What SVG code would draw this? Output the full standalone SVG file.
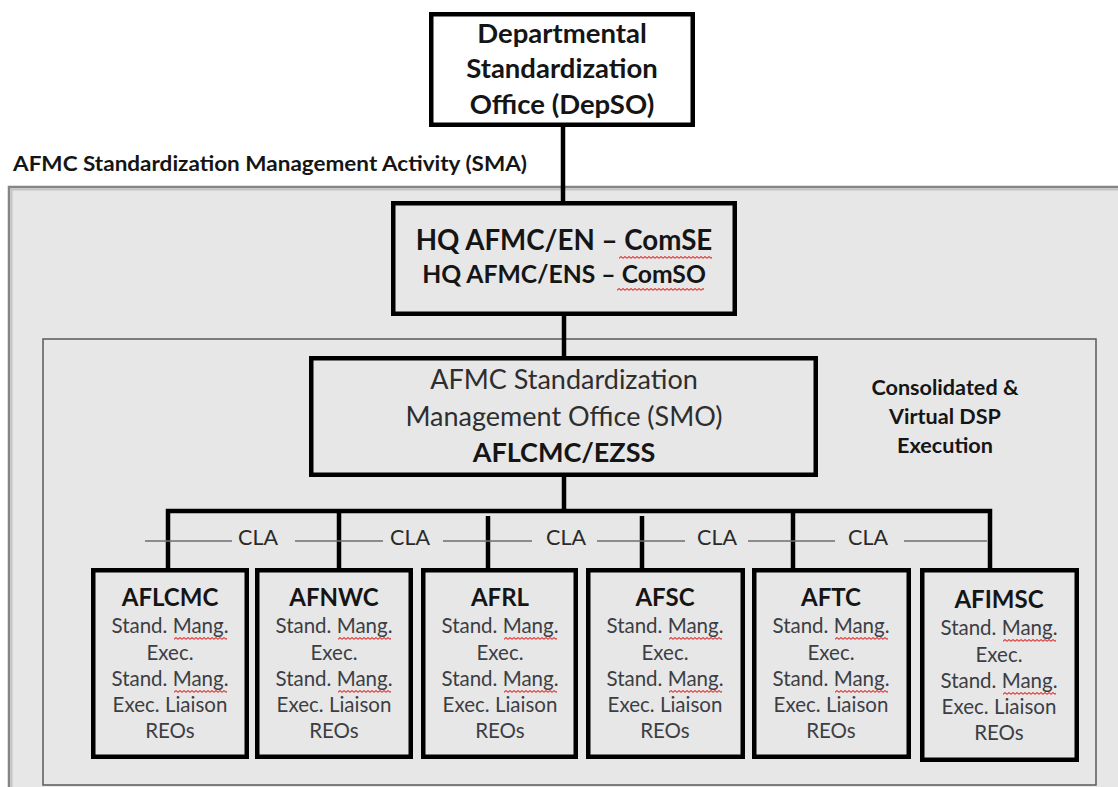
<svg xmlns="http://www.w3.org/2000/svg" width="1118" height="787" viewBox="0 0 1118 787">
<style>
text{font-family:Lato,"Open Sans","Liberation Sans",sans-serif;text-anchor:middle;}
.b{font-weight:bold;fill:#151515;}
.r{fill:#2e2e2e;}
.box{stroke:#000;stroke-width:4.5;fill:#e7e7e7;}
.conn{stroke:#000;stroke-width:4.5;fill:none;}
.cla{stroke:#6e6e6e;stroke-width:1.3;fill:none;}
.lt{font-size:24px;font-weight:bold;fill:#151515;}
.lb{font-size:20.5px;fill:#3c3e44;}
.cl{font-size:21.5px;fill:#2a2a2a;}
</style>
<defs>
<pattern id="wavy" patternUnits="userSpaceOnUse" width="4" height="3">
<path d="M0,2.4 L2,0.6 L4,2.4" stroke="#e04444" stroke-width="1.2" fill="none"/>
</pattern>
</defs>
<rect x="0" y="0" width="1118" height="787" fill="#ffffff"/>

<g id="sma-panel">
<rect x="9" y="187" width="1130" height="620" fill="#e7e7e7" stroke="#858585" stroke-width="2.5"/>
<path d="M11.5,805 V189.5 H1118" fill="none" stroke="#c4c4c4" stroke-width="2"/>
<text x="13" y="171" class="b" style="text-anchor:start;font-size:21.8px" textLength="514" lengthAdjust="spacingAndGlyphs">AFMC Standardization Management Activity (SMA)</text>
</g>

<g id="dsp-panel">
<rect x="43" y="339" width="1053" height="446" fill="none" stroke="#5a5a5a" stroke-width="1.5"/>
<text class="b" style="font-size:21.6px" x="945" y="395">Consolidated &amp;</text>
<text class="b" style="font-size:21.6px" x="945" y="424">Virtual DSP</text>
<text class="b" style="font-size:21.6px" x="945" y="453">Execution</text>
</g>

<g id="connectors">
<line class="conn" x1="563" y1="127" x2="563" y2="201"/>
<line class="conn" x1="564" y1="316" x2="564" y2="356"/>
<line class="conn" x1="564" y1="477" x2="564" y2="511"/>
<path class="conn" d="M168,568 V511 H990 V568"/>
<line class="conn" x1="339" y1="511" x2="339" y2="568"/>
<line class="conn" x1="488" y1="516" x2="488" y2="568"/>
<line class="conn" x1="642" y1="516" x2="642" y2="568"/>
<line class="conn" x1="793" y1="511" x2="793" y2="568"/>
<g id="cla-links">
<line class="cla" x1="145" y1="541" x2="232" y2="541"/>
<line class="cla" x1="295" y1="541" x2="383" y2="541"/>
<line class="cla" x1="443" y1="541" x2="532" y2="541"/>
<line class="cla" x1="597" y1="541" x2="685" y2="541"/>
<line class="cla" x1="748" y1="541" x2="835" y2="541"/>
<line class="cla" x1="904" y1="541" x2="987" y2="541"/>
<text class="cl" x="258" y="545">CLA</text>
<text class="cl" x="410" y="545">CLA</text>
<text class="cl" x="566" y="545">CLA</text>
<text class="cl" x="717" y="545">CLA</text>
<text class="cl" x="868" y="545">CLA</text>
</g>
</g>

<g id="depso">
<rect x="431.25" y="14.25" width="261.5" height="110.5" stroke="#000" stroke-width="4.5" fill="#ffffff"/>
<text class="b" style="font-size:27.5px" x="562" y="43">Departmental</text>
<text class="b" style="font-size:27.5px" x="562" y="78">Standardization</text>
<text class="b" style="font-size:27.5px" x="562" y="114">Office (DepSO)</text>
</g>

<g id="hq">
<rect class="box" x="393.25" y="203.25" width="341.5" height="110.5"/>
<text class="b" style="font-size:27.7px" x="564" y="250">HQ AFMC/EN – ComSE</text>
<text class="b" style="font-size:24.7px" x="564" y="283">HQ AFMC/ENS – ComSO</text>
<g transform="translate(619,256)"><rect width="93" height="3" fill="url(#wavy)"/></g>
<g transform="translate(617,288)"><rect width="87" height="3" fill="url(#wavy)"/></g>
</g>

<g id="smo">
<rect class="box" x="311.25" y="358.25" width="504.5" height="116.5"/>
<text class="r" style="font-size:27px" x="564" y="389">AFMC Standardization</text>
<text class="r" style="font-size:27px" x="564" y="426">Management Office (SMO)</text>
<text class="b" style="font-size:27px" x="564" y="462">AFLCMC/EZSS</text>
</g>

<g id="aflcmc">
<rect class="box" x="93.25" y="570.25" width="153.5" height="186.5"/>
<text class="lt" x="170" y="606">AFLCMC</text>
<text class="lb" x="170" y="633">Stand. Mang.</text>
<text class="lb" x="170" y="660">Exec.</text>
<text class="lb" x="170" y="686">Stand. Mang.</text>
<text class="lb" x="170" y="712">Exec. Liaison</text>
<text class="lb" x="170" y="738">REOs</text>
<g transform="translate(174,637)"><rect width="53" height="3" fill="url(#wavy)"/></g>
<g transform="translate(174,690)"><rect width="53" height="3" fill="url(#wavy)"/></g>
</g>

<g id="afnwc">
<rect class="box" x="257.25" y="570.25" width="153.5" height="186.5"/>
<text class="lt" x="334" y="606">AFNWC</text>
<text class="lb" x="334" y="633">Stand. Mang.</text>
<text class="lb" x="334" y="660">Exec.</text>
<text class="lb" x="334" y="686">Stand. Mang.</text>
<text class="lb" x="334" y="712">Exec. Liaison</text>
<text class="lb" x="334" y="738">REOs</text>
<g transform="translate(338,637)"><rect width="53" height="3" fill="url(#wavy)"/></g>
<g transform="translate(338,690)"><rect width="53" height="3" fill="url(#wavy)"/></g>
</g>

<g id="afrl">
<rect class="box" x="423.25" y="570.25" width="152.5" height="186.5"/>
<text class="lt" x="500" y="606">AFRL</text>
<text class="lb" x="500" y="633">Stand. Mang.</text>
<text class="lb" x="500" y="660">Exec.</text>
<text class="lb" x="500" y="686">Stand. Mang.</text>
<text class="lb" x="500" y="712">Exec. Liaison</text>
<text class="lb" x="500" y="738">REOs</text>
<g transform="translate(504,637)"><rect width="53" height="3" fill="url(#wavy)"/></g>
<g transform="translate(504,690)"><rect width="53" height="3" fill="url(#wavy)"/></g>
</g>

<g id="afsc">
<rect class="box" x="588.25" y="570.25" width="154.5" height="186.5"/>
<text class="lt" x="665" y="606">AFSC</text>
<text class="lb" x="665" y="633">Stand. Mang.</text>
<text class="lb" x="665" y="660">Exec.</text>
<text class="lb" x="665" y="686">Stand. Mang.</text>
<text class="lb" x="665" y="712">Exec. Liaison</text>
<text class="lb" x="665" y="738">REOs</text>
<g transform="translate(669,637)"><rect width="53" height="3" fill="url(#wavy)"/></g>
<g transform="translate(669,690)"><rect width="53" height="3" fill="url(#wavy)"/></g>
</g>

<g id="aftc">
<rect class="box" x="754.25" y="570.25" width="154.5" height="186.5"/>
<text class="lt" x="831" y="606">AFTC</text>
<text class="lb" x="831" y="633">Stand. Mang.</text>
<text class="lb" x="831" y="660">Exec.</text>
<text class="lb" x="831" y="686">Stand. Mang.</text>
<text class="lb" x="831" y="712">Exec. Liaison</text>
<text class="lb" x="831" y="738">REOs</text>
<g transform="translate(835,637)"><rect width="53" height="3" fill="url(#wavy)"/></g>
<g transform="translate(835,690)"><rect width="53" height="3" fill="url(#wavy)"/></g>
</g>

<g id="afimsc">
<rect class="box" x="922.25" y="570.25" width="154.5" height="189.5"/>
<text class="lt" x="999" y="608">AFIMSC</text>
<text class="lb" x="999" y="635">Stand. Mang.</text>
<text class="lb" x="999" y="662">Exec.</text>
<text class="lb" x="999" y="688">Stand. Mang.</text>
<text class="lb" x="999" y="714">Exec. Liaison</text>
<text class="lb" x="999" y="740">REOs</text>
<g transform="translate(1003,639)"><rect width="53" height="3" fill="url(#wavy)"/></g>
<g transform="translate(1003,692)"><rect width="53" height="3" fill="url(#wavy)"/></g>
</g>
</svg>
